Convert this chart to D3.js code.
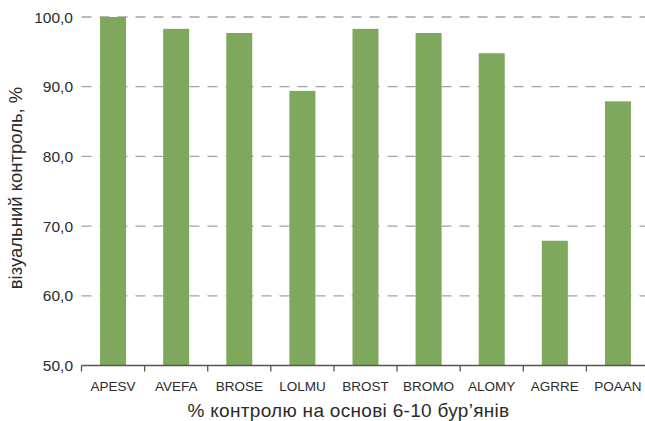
<!DOCTYPE html>
<html>
<head>
<meta charset="utf-8">
<script src="https://cdn.jsdelivr.net/npm/d3@7"></script>
<style>
  html, body { margin: 0; padding: 0; background: #fff; }
  svg { display: block; font-family: "Liberation Sans", Arial, sans-serif; }
</style>
</head>
<body>
<svg id="chart" width="645" height="421"></svg>
<script>
// Weed species codes and visual control ratings (%)
const species = ["APESV", "AVEFA", "BROSE", "LOLMU", "BROST", "BROMO", "ALOMY", "AGRRE", "POAAN"];
const control = [100.0, 98.3, 97.7, 89.4, 98.3, 97.7, 94.8, 67.9, 87.9];
const yTicks = [50, 60, 70, 80, 90, 100];
const xTitle = "% контролю на основі 6-10 бур’янів";
const yTitle = "візуальний контроль, %";

const svg = d3.select("#chart");
const plotLeft = 81.5, plotRight = 649.5, plotTop = 17, plotBottom = 365.5;

const x = d3.scaleBand()
  .domain(species)
  .range([plotLeft, plotRight])
  .paddingInner(0.588)
  .paddingOuter(0.294);

const y = d3.scaleLinear().domain([50, 100]).range([plotBottom, plotTop]);
const fmt = v => d3.format(".1f")(v).replace(".", ",");

// dashed horizontal gridlines
svg.append("g")
  .selectAll("line")
  .data(yTicks.filter(d => d > 50))
  .join("line")
  .attr("x1", plotLeft)
  .attr("x2", 645)
  .attr("y1", d => y(d))
  .attr("y2", d => y(d))
  .attr("stroke", "#a3a3a3")
  .attr("stroke-width", 1.3)
  .attr("stroke-dasharray", "10,8");

// bars
svg.append("g")
  .selectAll("rect")
  .data(species.map((s, i) => ({ s, v: control[i] })))
  .join("rect")
  .attr("x", d => x(d.s))
  .attr("width", x.bandwidth())
  .attr("y", d => y(d.v))
  .attr("height", d => y(50) - y(d.v))
  .attr("fill", "#7ea85c");

// y tick labels (no axis line)
svg.append("g")
  .selectAll("text")
  .data(yTicks)
  .join("text")
  .attr("x", 73)
  .attr("y", d => y(d))
  .attr("dy", "0.36em")
  .attr("text-anchor", "end")
  .attr("font-size", 15.5)
  .attr("fill", "#2b2b2b")
  .text(fmt);

// x axis with ticks at band boundaries
const xAxis = svg.append("g").attr("transform", `translate(0,${plotBottom})`);
xAxis.append("line")
  .attr("x1", plotLeft).attr("x2", 645)
  .attr("stroke", "#555").attr("stroke-width", 1.5);
xAxis.selectAll("line.tick")
  .data(species)
  .join("line")
  .attr("class", "tick")
  .attr("x1", d => x(d) - x.step() * x.paddingOuter())
  .attr("x2", d => x(d) - x.step() * x.paddingOuter())
  .attr("y1", 0).attr("y2", 6)
  .attr("stroke", "#555").attr("stroke-width", 1.3);
xAxis.selectAll("text")
  .data(species)
  .join("text")
  .attr("x", d => x(d) + x.bandwidth() / 2)
  .attr("y", 25)
  .attr("text-anchor", "middle")
  .attr("font-size", 13.5)
  .attr("fill", "#2b2b2b")
  .text(d => d);

// axis titles
svg.append("text")
  .attr("x", 348.5)
  .attr("y", 416.5)
  .attr("text-anchor", "middle")
  .attr("font-size", 19)
  .attr("letter-spacing", 0.3)
  .attr("fill", "#2b2b2b")
  .text(xTitle);

svg.append("text")
  .attr("transform", "translate(22,188) rotate(-90)")
  .attr("text-anchor", "middle")
  .attr("font-size", 18.5)
  .attr("fill", "#2b2b2b")
  .text(yTitle);
</script>
</body>
</html>
